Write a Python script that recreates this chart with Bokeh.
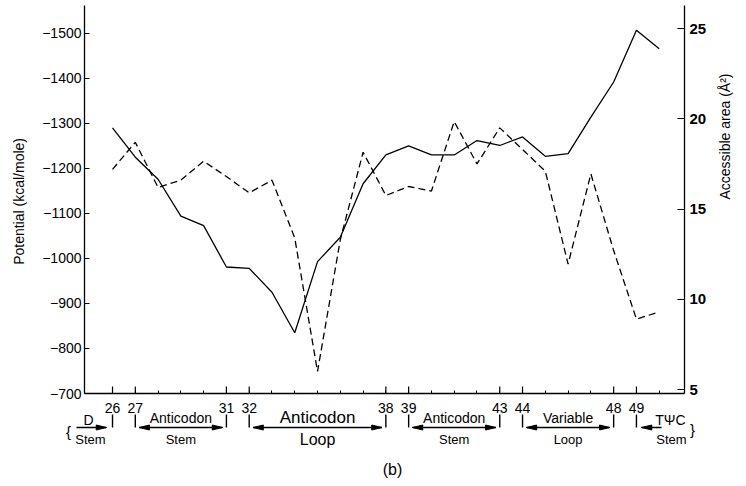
import math
from bokeh.plotting import figure
from bokeh.layouts import column
from bokeh.models import Range1d, LinearAxis, FixedTicker
from bokeh.core.properties import value
from bokeh.embed import file_html
from bokeh.resources import INLINE

# ---- data ----
residues = list(range(26, 51))
potential = [-1290, -1225, -1176, -1094, -1073, -981, -978, -925, -835, -993,
             -1047, -1166, -1230, -1250, -1230, -1230, -1262, -1251, -1270, -1227,
             -1233, -1314, -1392, -1507, -1466]
area = [17.2, 18.7, 16.2, 16.6, 17.65, 16.8, 15.9, 16.6, 13.4, 6.0,
        13.3, 18.15, 15.75, 16.25, 16.0, 19.85, 17.5, 19.5, 18.3, 17.1,
        11.95, 16.95, 12.7, 8.9, 9.3]
labelled_residues = [26, 27, 31, 32, 38, 39, 43, 44, 48, 49]
potential_ticks = [-1500, -1400, -1300, -1200, -1100, -1000, -900, -800, -700]
area_ticks = [5, 10, 15, 20, 25]
region_top = ["Anticodon", "Anticodon", "Anticodon", "Variable"]
region_bottom = ["Stem", "Loop", "Stem", "Loop"]
region_from = [27, 32, 39, 44]
region_to = [31, 38, 43, 48]

FONT = "Liberation Sans"
W, H = 746, 486
L, R, T = 84, 62, 5
FRAME_BOTTOM = 393
MAIN_H = 400               # main figure ends just below the x axis line
BOT_H = H - MAIN_H         # strip below: residue numbers and region annotations
X0, X1 = 24.77, 51.11
Y0, Y1 = -700, -1562
frame_w = W - L - R
frame_h = FRAME_BOTTOM - T

p = figure(width=W, height=MAIN_H, x_range=Range1d(X0, X1), y_range=Range1d(Y0, Y1),
           output_backend="svg", toolbar_location=None,
           min_border_left=L, min_border_right=R, min_border_top=T,
           min_border_bottom=MAIN_H - FRAME_BOTTOM)
p.frame_align = False
p.outline_line_color = None
p.xgrid.visible = False
p.ygrid.visible = False

p.extra_y_ranges = {"area": Range1d(4.78, 26.28)}

# left axis
ya = p.yaxis[0]
ya.ticker = FixedTicker(ticks=potential_ticks, minor_ticks=[])
ya.axis_label = "Potential  (kcal/mole)"
ya.axis_label_text_font = FONT
ya.axis_label_text_font_size = "14px"
ya.axis_label_text_font_style = "normal"
ya.axis_label_text_color = "black"
ya.axis_label_standoff = 12
ya.major_label_text_font = FONT
ya.major_label_text_font_size = "14px"
ya.major_label_text_color = "black"
ya.major_label_standoff = 3
ya.major_tick_in = 5
ya.major_tick_out = 0
ya.minor_tick_in = 0
ya.minor_tick_out = 0
ya.axis_line_width = 1.3
ya.axis_line_color = "black"
ya.major_tick_line_color = "black"
ya.major_tick_line_width = 1.2

# right axis
ra = LinearAxis(y_range_name="area", ticker=FixedTicker(ticks=area_ticks, minor_ticks=[]))
ra.axis_label = "Accessible  area  (Å²)"
ra.axis_label_orientation = math.pi / 2
ra.axis_label_text_font = FONT
ra.axis_label_text_font_size = "14px"
ra.axis_label_text_font_style = "normal"
ra.axis_label_text_color = "black"
ra.axis_label_standoff = 16
ra.major_label_text_font = FONT
ra.major_label_text_font_size = "15px"
ra.major_label_text_font_style = "bold"
ra.major_label_text_color = "black"
ra.major_label_standoff = 5
ra.major_tick_in = 7
ra.major_tick_out = 0
ra.minor_tick_in = 0
ra.minor_tick_out = 0
ra.axis_line_width = 1.3
ra.axis_line_color = "black"
ra.major_tick_line_color = "black"
p.add_layout(ra, "right")

# bottom axis: small tick at every residue (numbers are set in the strip below)
xa = p.xaxis[0]
xa.ticker = FixedTicker(ticks=[], minor_ticks=residues)
xa.minor_tick_in = 3
xa.minor_tick_out = 0
xa.minor_tick_line_color = "black"
xa.axis_line_width = 1.3
xa.axis_line_color = "black"

# longer ticks at the numbered residues
tick_len = 7 * (Y0 - Y1) / frame_h
p.segment(x0=labelled_residues, y0=[Y0] * len(labelled_residues),
          x1=labelled_residues, y1=[Y0 - tick_len] * len(labelled_residues),
          line_color="black", line_width=1.2)

# series
p.line(residues, potential, line_color="black", line_width=1.3)
p.line(residues, area, y_range_name="area", line_color="black", line_width=1.3,
       line_dash="7 4")

# ---- strip below (whole width; y in pixels from the strip top) ----
def xd(px):
    return X0 + (px - L) / frame_w * (X1 - X0)

q = figure(width=W, height=BOT_H, x_range=Range1d(xd(0), xd(W)), y_range=Range1d(BOT_H, 0),
           output_backend="svg", toolbar_location=None,
           x_axis_location=None, y_axis_location=None,
           min_border_left=0, min_border_right=0, min_border_top=0, min_border_bottom=0)
q.frame_align = False
q.grid.visible = False
q.outline_line_color = None

def yd(py):
    return py - MAIN_H

def txt(s, px, py, size="13px"):
    q.text(x=[xd(px)], y=[yd(py)], text=[s], text_align="center",
           text_baseline="middle", text_font=value(FONT),
           text_font_size=size, text_color="black")

AR_Y = yd(427)

def arrow(xa_, xb_, left=False, right=False):
    q.segment(x0=[xa_], y0=[AR_Y], x1=[xb_], y1=[AR_Y], line_color="black", line_width=1.4)
    hw = 0.45  # head length in residues
    if left:
        q.patch([xa_, xa_ + hw, xa_ + hw], [AR_Y, AR_Y - 2.5, AR_Y + 2.5],
                fill_color="black", line_color="black")
    if right:
        q.patch([xb_, xb_ - hw, xb_ - hw], [AR_Y, AR_Y - 2.5, AR_Y + 2.5],
                fill_color="black", line_color="black")

# residue numbers
q.text(x=labelled_residues, y=[yd(407)] * len(labelled_residues),
       text=[str(r) for r in labelled_residues], text_align="center",
       text_baseline="middle", text_font=value(FONT), text_font_size="14px",
       text_color="black")

# vertical bars under each labelled residue
q.segment(x0=labelled_residues, y0=[yd(414)] * len(labelled_residues),
          x1=labelled_residues, y1=[yd(427)] * len(labelled_residues),
          line_color="black", line_width=1.4)

# D stem
txt("{", 68, 431, "15px")
txt("D", 88, 419, "14px")
arrow(xd(76), xd(106), right=True)
txt("Stem", 90, 439, "13px")

for top, bot, a, b in zip(region_top, region_bottom, region_from, region_to):
    big = top == "Anticodon" and bot == "Loop"
    cx = (a + b) / 2.0
    pxc = L + (cx - X0) / (X1 - X0) * frame_w
    arrow(a + 0.17, b - 0.17, left=True, right=True)
    txt(top, pxc, 417, "17px" if big else "14px")
    txt(bot, pxc, 439, "16px" if big else "13px")

# T psi C stem
txt("TΨC", 670, 419, "14px")
arrow(xd(641), xd(661), left=True)
txt("Stem", 671, 439, "13px")
txt("}", 692, 429, "15px")

txt("(b)", 392, 469, "16px")

layout = column(p, q, spacing=0)
open("out.html", "w").write(file_html(layout, INLINE))
